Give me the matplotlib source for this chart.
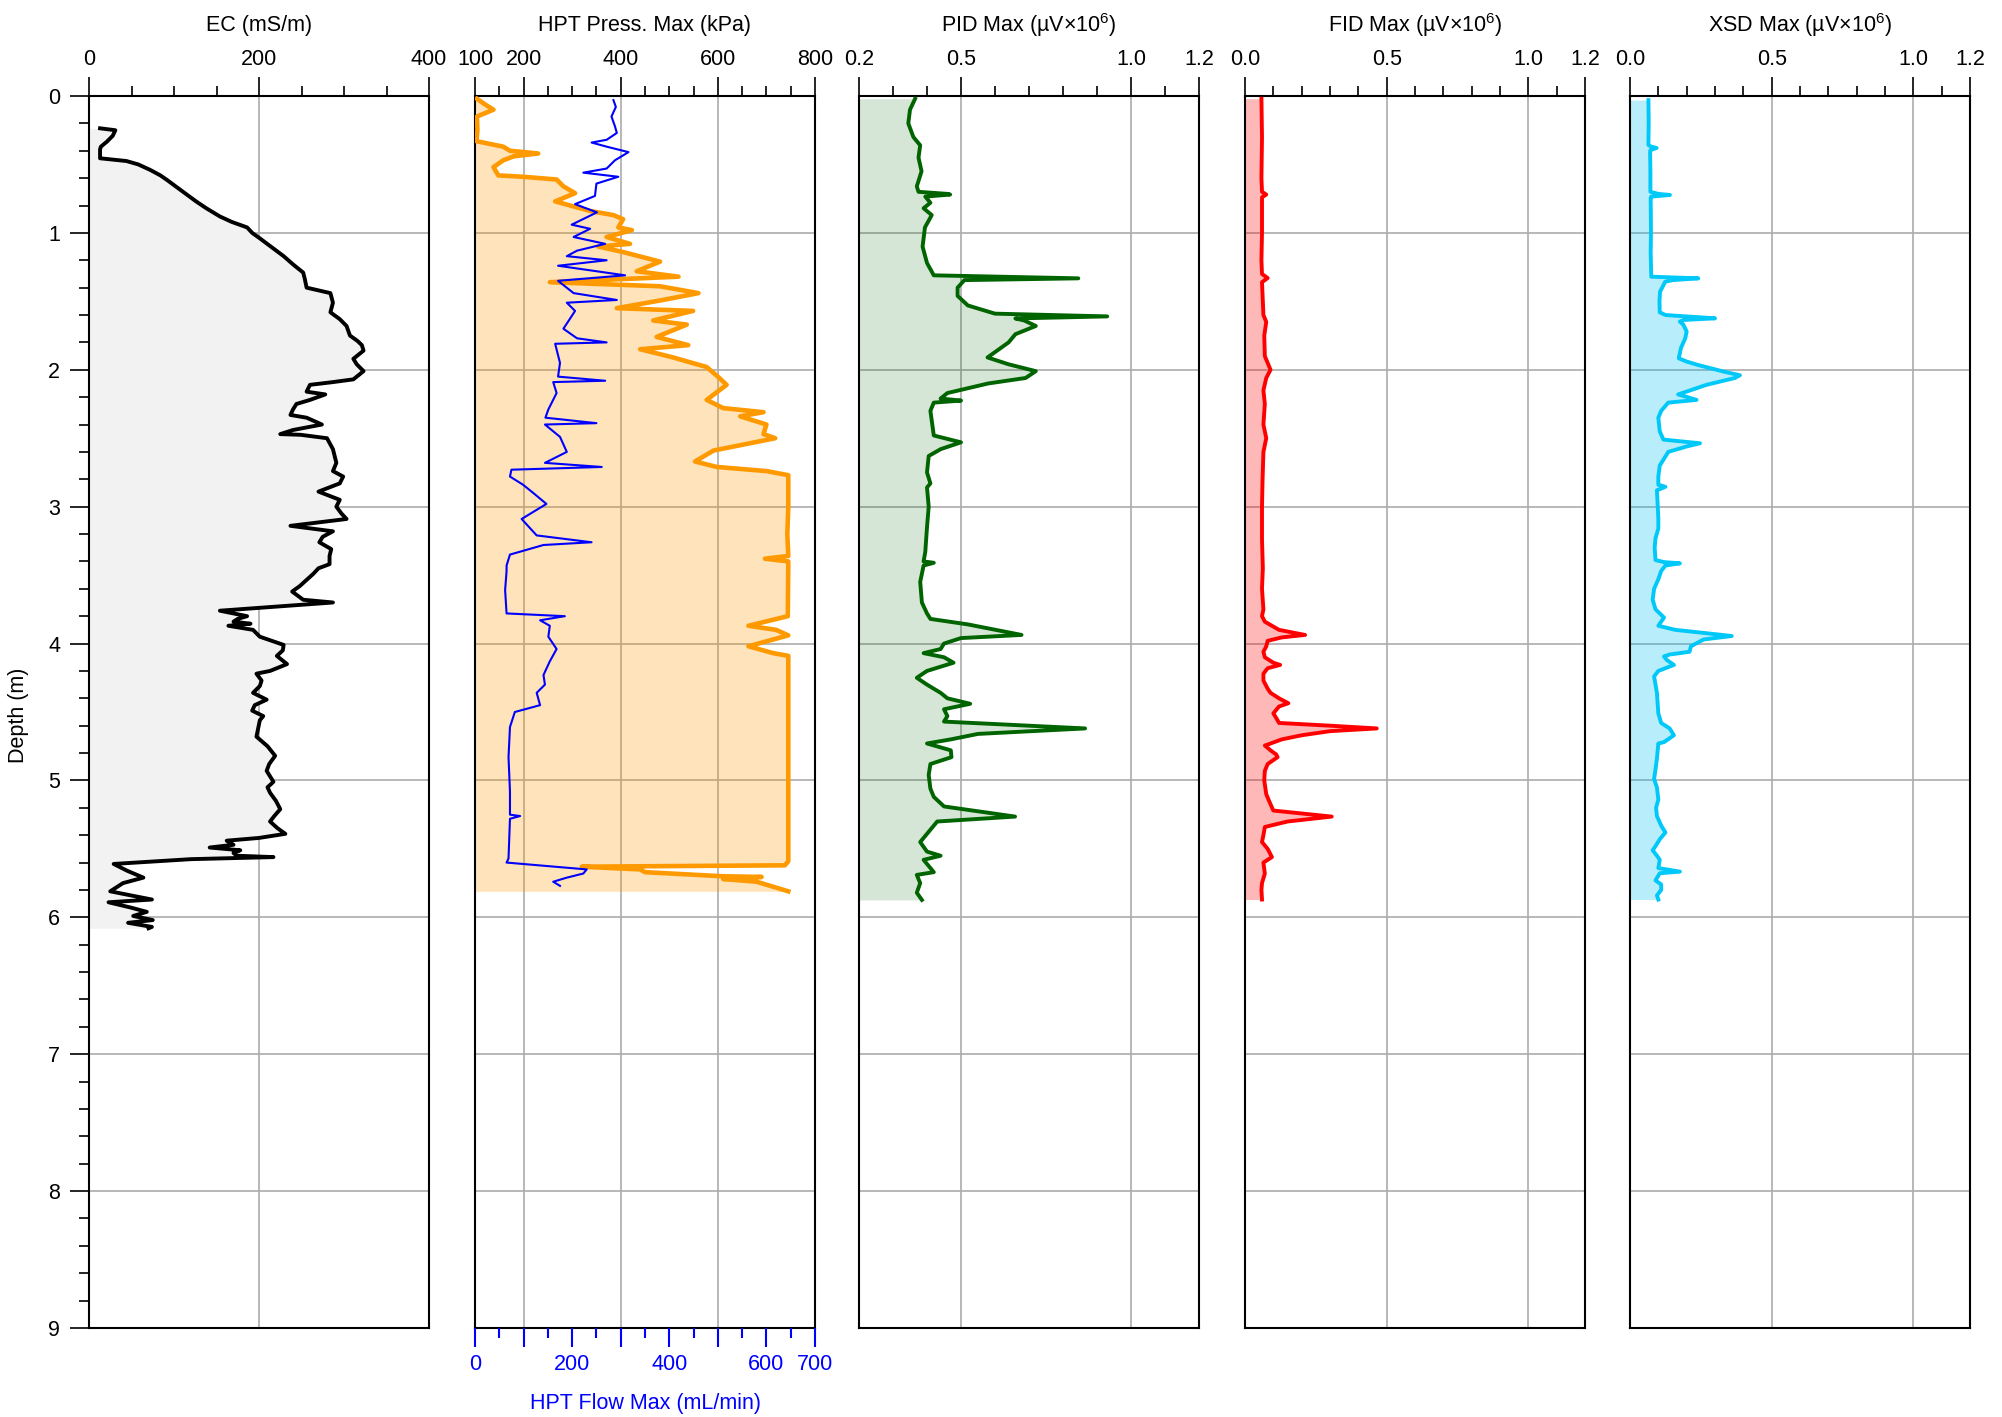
import matplotlib
matplotlib.use('Agg')
import matplotlib.pyplot as plt
from matplotlib.ticker import MultipleLocator

plt.rcParams['font.family'] = ['Liberation Sans', 'DejaVu Sans']
plt.rcParams['mathtext.fontset'] = 'custom'
plt.rcParams['mathtext.rm'] = 'Liberation Sans'
plt.rcParams['mathtext.it'] = 'Liberation Sans:italic'
plt.rcParams['font.size'] = 15.5

ec_depth = [0.236, 0.25, 0.29, 0.334, 0.37, 0.39, 0.455, 0.475, 0.50, 0.54, 0.58, 0.61, 0.66, 0.72, 0.77,
            0.82, 0.88, 0.92, 0.96, 1.00, 1.04, 1.10, 1.17, 1.23, 1.29, 1.34, 1.40, 1.44, 1.51, 1.58,
            1.63, 1.68, 1.75, 1.79, 1.82, 1.86, 1.92, 1.96, 2.01, 2.07, 2.09, 2.11, 2.16, 2.18, 2.22,
            2.25, 2.29, 2.33, 2.35, 2.40, 2.44, 2.47, 2.475, 2.50, 2.58, 2.63, 2.68, 2.74, 2.78, 2.83,
            2.89, 2.95, 3.00, 3.05, 3.09, 3.14, 3.18, 3.22, 3.26, 3.31, 3.36, 3.42, 3.45, 3.49, 3.58,
            3.62, 3.68, 3.70, 3.76, 3.80, 3.82, 3.84, 3.855, 3.87, 3.90, 3.95, 3.98, 4.01, 4.05, 4.09,
            4.15, 4.20, 4.22, 4.27, 4.31, 4.36, 4.41, 4.45, 4.49, 4.53, 4.56, 4.62, 4.68, 4.75, 4.82,
            4.88, 4.93, 5.01, 5.05, 5.09, 5.15, 5.21, 5.26, 5.30, 5.35, 5.39, 5.42, 5.44, 5.47, 5.49,
            5.51, 5.53, 5.55, 5.56, 5.575, 5.61, 5.66, 5.71, 5.75, 5.81, 5.87, 5.89, 5.93, 5.96, 5.99,
            6.02, 6.04, 6.07, 6.08]
ec_value = [13, 31, 28, 21, 14, 13, 13, 44, 58, 72, 84, 91, 102, 115, 126,
            138, 154, 168, 186, 192, 201, 214, 229, 240, 252, 254, 256, 284, 287, 284,
            295, 303, 307, 316, 321, 323, 311, 315, 323, 311, 287, 260, 256, 278, 260,
            244, 240, 237, 256, 274, 240, 225, 249, 280, 287, 289, 291, 287, 299, 295,
            270, 295, 291, 297, 303, 237, 287, 275, 271, 285, 283, 283, 270, 264, 248,
            239, 252, 287, 154, 186, 175, 170, 190, 164, 193, 201, 215, 229, 228, 221,
            233, 213, 197, 203, 201, 193, 209, 195, 192, 205, 201, 199, 197, 210, 219,
            212, 209, 217, 210, 213, 220, 225, 218, 213, 222, 231, 200, 162, 170, 142,
            178, 170, 174, 217, 120, 29, 45, 64, 40, 25, 74, 23, 50, 68, 52,
            75, 46, 74, 70]

press_depth = [0.02, 0.06, 0.10, 0.15, 0.25, 0.33, 0.37, 0.40, 0.42, 0.44, 0.47, 0.52, 0.58, 0.59, 0.61,
               0.66, 0.71, 0.77, 0.80, 0.84, 0.87, 0.90, 0.96, 0.98, 1.03, 1.08, 1.10, 1.14, 1.21, 1.28,
               1.32, 1.36, 1.39, 1.44, 1.49, 1.55, 1.57, 1.64, 1.67, 1.76, 1.82, 1.85, 1.91, 1.98, 2.05,
               2.11, 2.22, 2.28, 2.31, 2.34, 2.40, 2.47, 2.50, 2.59, 2.67, 2.71, 2.74, 2.77, 3.00, 3.20,
               3.36, 3.38, 3.40, 3.80, 3.87, 3.90, 3.94, 4.02, 4.07, 4.09, 5.59, 5.62, 5.63, 5.65, 5.67,
               5.70, 5.705, 5.72, 5.74, 5.81]
press_value = [104, 120, 138, 104, 105, 103, 158, 172, 230, 180, 158, 138, 148, 199, 268,
               282, 306, 265, 296, 337, 385, 405, 395, 423, 371, 419, 354, 405, 481, 433,
               519, 254, 481, 560, 487, 392, 549, 467, 536, 474, 539, 440, 508, 577, 600,
               618, 577, 611, 694, 646, 700, 694, 718, 591, 553, 598, 700, 745, 745, 743,
               745, 697, 745, 744, 663, 720, 745, 663, 714, 745, 745, 738, 320, 440, 450,
               610, 690, 611, 680, 745]

flow_depth = [0.03, 0.08, 0.15, 0.22, 0.27, 0.32, 0.34, 0.37, 0.41, 0.47, 0.53, 0.56, 0.59, 0.64, 0.73,
              0.79, 0.85, 0.94, 0.97, 1.03, 1.08, 1.13, 1.17, 1.20, 1.24, 1.31, 1.35, 1.44, 1.49, 1.51,
              1.57, 1.63, 1.70, 1.77, 1.80, 1.81, 1.88, 1.95, 2.05, 2.08, 2.09, 2.17, 2.29, 2.35, 2.39,
              2.40, 2.49, 2.60, 2.68, 2.71, 2.73, 2.78, 2.84, 2.90, 2.98, 3.09, 3.21, 3.26, 3.28, 3.35,
              3.43, 3.47, 3.61, 3.78, 3.80, 3.83, 3.87, 3.95, 4.04, 4.13, 4.23, 4.30, 4.36, 4.45, 4.50,
              4.61, 4.83, 5.08, 5.25, 5.26, 5.28, 5.57, 5.60, 5.65, 5.68, 5.71, 5.74, 5.77]
flow_value = [285, 290, 281, 288, 292, 271, 240, 271, 316, 288, 271, 223, 295, 250, 247,
              206, 251, 199, 237, 203, 268, 210, 189, 271, 171, 309, 171, 203, 292, 189,
              206, 195, 182, 210, 271, 165, 170, 175, 171, 268, 161, 168, 151, 145, 250,
              144, 175, 189, 144, 261, 75, 72, 99, 120, 147, 96, 127, 240, 141, 72,
              65, 65, 62, 65, 185, 134, 154, 151, 168, 154, 141, 144, 127, 134, 82,
              72, 69, 72, 72, 93, 72, 69, 65, 230, 223, 189, 161, 175]

pid_depth = [0.02, 0.10, 0.20, 0.30, 0.36, 0.45, 0.55, 0.66, 0.70, 0.715, 0.72, 0.735, 0.78, 0.82, 0.87,
             0.96, 1.10, 1.22, 1.31, 1.332, 1.345, 1.40, 1.46, 1.53, 1.59, 1.61, 1.625, 1.64, 1.68, 1.74,
             1.80, 1.91, 1.96, 2.01, 2.06, 2.10, 2.17, 2.21, 2.225, 2.24, 2.30, 2.48, 2.53, 2.58, 2.63,
             2.75, 2.83, 2.86, 3.00, 3.15, 3.33, 3.40, 3.41, 3.43, 3.55, 3.70, 3.78, 3.82, 3.86, 3.937,
             3.96, 4.00, 4.04, 4.07, 4.10, 4.14, 4.20, 4.25, 4.30, 4.36, 4.40, 4.44, 4.48, 4.53, 4.57,
             4.62, 4.66, 4.70, 4.73, 4.78, 4.83, 4.88, 4.96, 5.06, 5.12, 5.19, 5.264, 5.30, 5.36, 5.45,
             5.52, 5.55, 5.58, 5.67, 5.69, 5.75, 5.82, 5.873]
pid_value = [0.365, 0.35, 0.345, 0.36, 0.38, 0.375, 0.384, 0.37, 0.375, 0.46, 0.468, 0.395, 0.41, 0.39, 0.414,
             0.394, 0.387, 0.40, 0.42, 0.845, 0.51, 0.49, 0.49, 0.52, 0.60, 0.93, 0.66, 0.686, 0.72, 0.66,
             0.64, 0.578, 0.64, 0.72, 0.69, 0.58, 0.46, 0.44, 0.50, 0.42, 0.41, 0.42, 0.50, 0.44, 0.405,
             0.40, 0.41, 0.40, 0.405, 0.40, 0.395, 0.39, 0.42, 0.39, 0.38, 0.385, 0.40, 0.41, 0.52, 0.678,
             0.50, 0.45, 0.44, 0.39, 0.45, 0.478, 0.40, 0.37, 0.40, 0.44, 0.46, 0.527, 0.45, 0.46, 0.45,
             0.865, 0.55, 0.47, 0.40, 0.47, 0.472, 0.41, 0.405, 0.41, 0.42, 0.45, 0.659, 0.43, 0.41, 0.38,
             0.40, 0.44, 0.39, 0.42, 0.37, 0.38, 0.37, 0.385]

fid_depth = [0.02, 0.30, 0.60, 0.70, 0.72, 0.74, 1.00, 1.20, 1.30, 1.33, 1.36, 1.60, 1.65, 1.75, 1.90,
             2.00, 2.06, 2.15, 2.25, 2.40, 2.50, 2.60, 2.80, 3.00, 3.24, 3.45, 3.60, 3.75, 3.80, 3.84,
             3.90, 3.937, 3.955, 3.98, 4.02, 4.06, 4.10, 4.14, 4.156, 4.18, 4.22, 4.27, 4.33, 4.36, 4.40,
             4.436, 4.46, 4.51, 4.55, 4.58, 4.60, 4.62, 4.64, 4.67, 4.70, 4.745, 4.78, 4.81, 4.83, 4.88,
             4.93, 5.00, 5.10, 5.15, 5.22, 5.264, 5.30, 5.34, 5.40, 5.45, 5.50, 5.56, 5.60, 5.68, 5.75,
             5.80, 5.87]
fid_value = [0.058, 0.06, 0.058, 0.06, 0.075, 0.06, 0.06, 0.058, 0.06, 0.08, 0.06, 0.065, 0.075, 0.068, 0.07,
             0.09, 0.075, 0.065, 0.07, 0.065, 0.075, 0.065, 0.062, 0.06, 0.06, 0.063, 0.06, 0.065, 0.06, 0.07,
             0.12, 0.212, 0.13, 0.08, 0.075, 0.065, 0.07, 0.10, 0.124, 0.08, 0.065, 0.065, 0.08, 0.09, 0.12,
             0.153, 0.12, 0.10, 0.112, 0.12, 0.30, 0.465, 0.30, 0.20, 0.13, 0.07, 0.09, 0.11, 0.115, 0.08,
             0.07, 0.068, 0.075, 0.085, 0.10, 0.306, 0.15, 0.07, 0.065, 0.06, 0.08, 0.095, 0.065, 0.07, 0.06,
             0.058, 0.06]

xsd_depth = [0.03, 0.20, 0.358, 0.37, 0.38, 0.395, 0.41, 0.55, 0.70, 0.715, 0.723, 0.735, 0.745, 0.99, 1.15,
             1.32, 1.332, 1.345, 1.357, 1.43, 1.50, 1.58, 1.60, 1.624, 1.636, 1.648, 1.67, 1.72, 1.77, 1.84,
             1.916, 1.94, 1.965, 2.013, 2.04, 2.06, 2.11, 2.18, 2.22, 2.24, 2.30, 2.35, 2.45, 2.51, 2.537,
             2.56, 2.60, 2.70, 2.78, 2.84, 2.855, 2.88, 3.00, 3.085, 3.16, 3.23, 3.30, 3.39, 3.405, 3.414,
             3.43, 3.47, 3.53, 3.60, 3.68, 3.75, 3.81, 3.87, 3.90, 3.92, 3.945, 3.97, 4.02, 4.06, 4.08,
             4.094, 4.12, 4.156, 4.20, 4.24, 4.30, 4.36, 4.45, 4.51, 4.58, 4.62, 4.67, 4.72, 4.73, 4.84,
             4.92, 4.99, 5.05, 5.14, 5.20, 5.26, 5.33, 5.38, 5.43, 5.48, 5.51, 5.55, 5.58, 5.64, 5.666,
             5.678, 5.73, 5.76, 5.80, 5.84, 5.87]
xsd_value = [0.065, 0.066, 0.065, 0.075, 0.094, 0.072, 0.071, 0.072, 0.072, 0.10, 0.141, 0.075, 0.073, 0.074, 0.073,
             0.075, 0.241, 0.15, 0.124, 0.106, 0.104, 0.105, 0.125, 0.30, 0.19, 0.176, 0.188, 0.20, 0.195, 0.18,
             0.172, 0.20, 0.24, 0.33, 0.388, 0.37, 0.27, 0.17, 0.235, 0.135, 0.11, 0.10, 0.105, 0.118, 0.247,
             0.20, 0.135, 0.105, 0.10, 0.10, 0.125, 0.095, 0.098, 0.10, 0.10, 0.09, 0.087, 0.09, 0.12, 0.176,
             0.125, 0.11, 0.10, 0.085, 0.08, 0.09, 0.12, 0.10, 0.16, 0.25, 0.359, 0.26, 0.215, 0.21, 0.14,
             0.12, 0.13, 0.155, 0.10, 0.085, 0.09, 0.095, 0.098, 0.10, 0.11, 0.14, 0.155, 0.12, 0.10, 0.095,
             0.09, 0.085, 0.095, 0.10, 0.092, 0.095, 0.11, 0.125, 0.105, 0.09, 0.08, 0.095, 0.105, 0.10, 0.176,
             0.105, 0.09, 0.11, 0.11, 0.095, 0.10]

titles = ['EC (mS/m)', 'HPT Press. Max (kPa)',
          'PID Max (µV$\\times$10$^{6}$)', 'FID Max (µV$\\times$10$^{6}$)',
          'XSD Max (µV$\\times$10$^{6}$)']

# ---- layout ----
W, H = 2002, 1417
fig = plt.figure(figsize=(W / 100, H / 100), dpi=100)
lefts = [89, 475, 859, 1245, 1630]
pw = 340
top_px, bot_px = 96, 1328
GRID = '#ababab'
MAJ, MIN = 13.7, 7.0


def top_ticks(ax, major, labels, minor):
    ax.xaxis.set_ticks_position('top')
    ax.set_xticks(major)
    ax.set_xticklabels(labels)
    ax.xaxis.set_minor_locator(MultipleLocator(minor))
    ax.tick_params(axis='x', which='major', length=MAJ, width=1.2, pad=5)
    ax.tick_params(axis='x', which='minor', length=MIN, width=1.2)


def setup(i, xlim, major, labels, minor, gridx):
    ax = fig.add_axes([lefts[i] / W, 1 - bot_px / H, pw / W, (bot_px - top_px) / H])
    ax.set_xlim(*xlim)
    ax.set_ylim(9, 0)
    for d in range(1, 9):
        ax.axhline(d, color=GRID, lw=1.2, zorder=0.5)
    for g in gridx:
        ax.axvline(g, color=GRID, lw=1.2, zorder=0.5)
    top_ticks(ax, major, labels, minor)
    ax.yaxis.set_major_locator(MultipleLocator(1))
    ax.yaxis.set_minor_locator(MultipleLocator(0.2))
    if i == 0:
        ax.tick_params(axis='y', which='major', length=MAJ, width=1.2, pad=7)
        ax.tick_params(axis='y', which='minor', length=MIN, width=1.2)
    else:
        ax.tick_params(axis='y', which='both', left=False, labelleft=False)
    for s in ax.spines.values():
        s.set_linewidth(1.5)
    fig.text((lefts[i] + pw / 2) / W, 1 - 25 / H, titles[i], ha='center', va='center')
    return ax


# EC
ax = setup(0, (0, 400), [0, 200, 400], ['0', '200', '400'], 50, [200])
ax.fill_betweenx(ec_depth, 0, ec_value, color='#f2f2f2', lw=0, zorder=1)
ax.plot(ec_value, ec_depth, color='black', lw=2.8, zorder=3)

# HPT
press_major = [100, 200, 400, 600, 800]
ax = setup(1, (100, 800), press_major, [str(v) for v in press_major], 50, [200, 400, 600])
ax.fill_betweenx(press_depth, 100, press_value, color='#ff9900', alpha=0.27, lw=0, zorder=1)
ax.plot(press_value, press_depth, color='#ff9900', lw=3.3, zorder=3)
ax2 = ax.twiny()
# twiny moves the host ticks to the bottom, put them back on top
top_ticks(ax, press_major, [str(v) for v in press_major], 50)
ax.tick_params(axis='x', which='both', bottom=False, labelbottom=False)
ax2.set_xlim(0, 700)
ax2.set_ylim(9, 0)
ax2.xaxis.set_ticks_position('bottom')
ax2.set_xticks(range(0, 701, 100))
ax2.set_xticklabels(['0', '', '200', '', '400', '', '600', '700'])
ax2.xaxis.set_minor_locator(MultipleLocator(50))
ax2.tick_params(axis='x', which='major', length=MAJ, width=1.5, pad=5, color='blue', labelcolor='blue',
                top=False, labeltop=False)
ax2.tick_params(axis='x', which='minor', length=MIN, width=1.5, color='blue', top=False)
for s in ax2.spines.values():
    s.set_visible(False)
ax2.plot(flow_value, flow_depth, color='blue', lw=1.5, zorder=4)
fig.text((lefts[1] + pw / 2) / W, 1 - 1404 / H, 'HPT Flow Max (mL/min)', color='blue', ha='center', va='center')

# PID
ax = setup(2, (0.2, 1.2), [0.2, 0.5, 1.0, 1.2], ['0.2', '0.5', '1.0', '1.2'], 0.1, [0.5, 1.0])
ax.fill_betweenx(pid_depth, 0.2, pid_value, color='#006400', alpha=0.16, lw=0, zorder=1)
ax.plot(pid_value, pid_depth, color='#006400', lw=2.8, zorder=3)

# FID
ax = setup(3, (0, 1.2), [0, 0.5, 1.0, 1.2], ['0.0', '0.5', '1.0', '1.2'], 0.1, [0.5, 1.0])
ax.fill_betweenx(fid_depth, 0, fid_value, color='red', alpha=0.28, lw=0, zorder=1)
ax.plot(fid_value, fid_depth, color='red', lw=2.8, zorder=3)

# XSD
ax = setup(4, (0, 1.2), [0, 0.5, 1.0, 1.2], ['0.0', '0.5', '1.0', '1.2'], 0.1, [0.5, 1.0])
ax.fill_betweenx(xsd_depth, 0, xsd_value, color='#00bff5', alpha=0.28, lw=0, zorder=1)
ax.plot(xsd_value, xsd_depth, color='#00c8f8', lw=2.8, zorder=3)

fig.text(19 / W, 1 - 715 / H, 'Depth (m)', rotation=90, ha='center', va='center')

fig.savefig('out.png', dpi=100)
